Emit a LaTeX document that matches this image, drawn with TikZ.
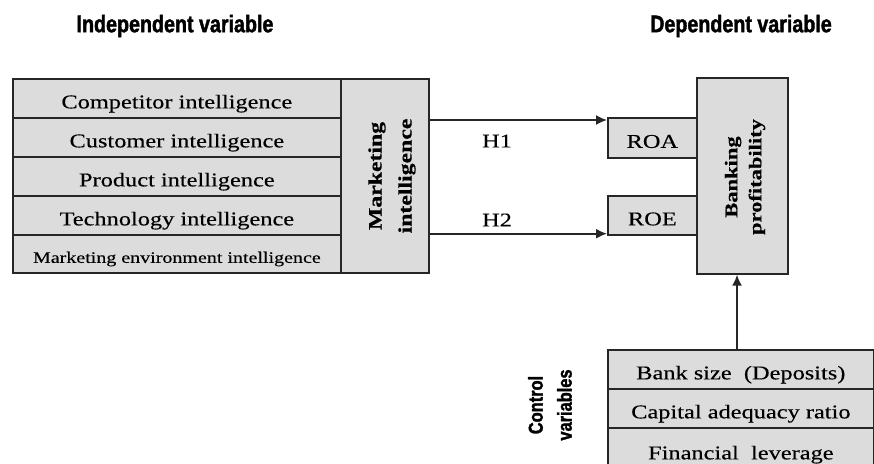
\documentclass[tikz,border=0pt]{standalone}
\usepackage{fontspec}
\setmainfont{Liberation Serif}[FakeStretch=1.25, FakeBold=0.3, BoldFeatures={FakeBold=0.5}]
\newfontfamily\titlefont{Liberation Sans}[FakeStretch=0.82, BoldFeatures={FakeBold=1.6}]
\usetikzlibrary{arrows.meta}
\definecolor{boxgray}{HTML}{DCDCDC}
\definecolor{ink}{HTML}{262626}
\begin{document}
\begin{tikzpicture}[x=1pt,y=-1pt,
  cell/.style={draw=ink, line width=1.7pt, fill=boxgray, inner sep=0pt, anchor=north west,
    text height=22pt, text depth=2pt, font=\fontsize{19.5}{22}\selectfont},
  plainbox/.style={draw=ink, line width=1.7pt, fill=boxgray, inner sep=0pt, anchor=north west},
  vtext/.style={rotate=90, align=center, inner sep=0pt, font=\bfseries\fontsize{19}{30}\selectfont},
  headline/.style={inner sep=0pt, font=\titlefont\bfseries\fontsize{24}{26}\selectfont},
  hlabel/.style={inner sep=0pt, font=\fontsize{19.5}{22}\selectfont},
  arr/.style={draw=ink, line width=1.7pt, -{Latex[length=11pt,width=10pt]}}
]
\useasboundingbox (0,0) rectangle (874,463);
\clip (0,0) rectangle (874,463);

% titles
\node[headline] (indep) at (175,26) {Independent variable};
\node[headline] (dep) at (741,26) {Dependent variable};

% independent block
\node[cell, minimum width=328pt, minimum height=39pt] (r1) at (12,78) {Competitor intelligence};
\node[cell, minimum width=328pt, minimum height=39pt] (r2) at (12,117) {Customer intelligence};
\node[cell, minimum width=328pt, minimum height=39pt] (r3) at (12,156) {Product intelligence};
\node[cell, minimum width=328pt, minimum height=39pt] (r4) at (12,195) {Technology intelligence};
\node[cell, minimum width=328pt, minimum height=38pt, font=\fontsize{16}{18}\selectfont, text height=20pt] (r5) at (12,234) {Marketing environment intelligence};
\node[plainbox, minimum width=88pt, minimum height=194pt] (mi) at (340,78) {};
\node[vtext] (mitxt) at (392,176) {Marketing\\intelligence};

% dependent block
\node[cell, minimum width=89pt, minimum height=40pt] (roa) at (607,117) {ROA};
\node[cell, minimum width=89pt, minimum height=39pt] (roe) at (607,195) {ROE};
\node[plainbox, minimum width=91pt, minimum height=196pt] (bp) at (696,77) {};
\node[vtext, font=\bfseries\fontsize{18}{24}\selectfont] (bptxt) at (745,177) {Banking\\profitability};

% hypotheses arrows
\coordinate (h1end) at ([yshift=-3pt]roa.north west);
\coordinate (h2end) at ([yshift=2pt]roe.south west);
\draw[arr] (mi.east |- h1end) -- (h1end);
\draw[arr] (mi.east |- h2end) -- (h2end);
\node[hlabel] (h1) at (497,141) {H1};
\node[hlabel] (h2) at (497,220) {H2};

% control variables
\node[cell, minimum width=266pt, minimum height=39pt] (c1) at (607,349) {Bank size\ \ (Deposits)};
\node[cell, minimum width=266pt, minimum height=39pt] (c2) at (607,388) {Capital adequacy ratio};
\node[cell, minimum width=266pt, minimum height=43pt] (c3) at (607,427) {Financial\ \ leverage};
\node[rotate=90, align=center, inner sep=0pt, font=\titlefont\bfseries\fontsize{20}{29}\selectfont] (cv) at (550,405) {Control\\variables};
\coordinate (cvtop) at (737,349);
\draw[arr] (cvtop) -- (cvtop |- bp.south);
\end{tikzpicture}
\end{document}
